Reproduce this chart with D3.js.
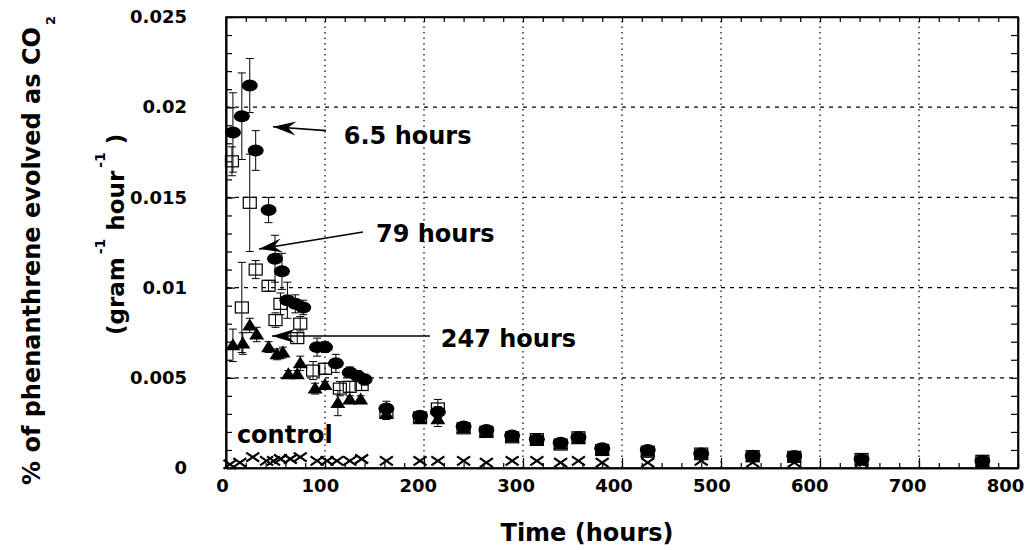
<!DOCTYPE html>
<html>
<head>
<meta charset="utf-8">
<script src="https://cdn.jsdelivr.net/npm/d3@7"></script>
<style>
  body { margin: 0; background: #fff; }
  text { font-family: "DejaVu Sans", sans-serif; font-weight: bold; fill: #000; }
</style>
</head>
<body>
<div id="chart"></div>
<script>
// ---- data (time in hours, rate in % gram^-1 hour^-1) ----
// 6.5 hours (filled circles)
const circleTime = [7, 16, 24, 30, 43, 49.5, 56.5, 62, 70, 78, 92, 100, 111, 125, 133, 140, 162, 196, 214,
  240, 263, 289, 314, 338, 356, 380, 426, 480, 532, 574, 642, 764];
const circleRate = [0.0186, 0.0195, 0.0212, 0.0176, 0.0143, 0.0116, 0.0109, 0.0093, 0.0091, 0.0089, 0.0067, 0.0067, 0.0058, 0.0053, 0.0051, 0.0049, 0.0033, 0.0029, 0.0031,
  0.0023, 0.0021, 0.0018, 0.0016, 0.0014, 0.0017, 0.0011, 0.0010, 0.0008, 0.00068, 0.00066, 0.0005, 0.0004];
const circleErr = [0.0022, 0.0024, 0.0015, 0.0011, 0.0007, 0.0013, 0.001, 0.001, 0.0005, 0.0004, 0.0005, 0.0003, 0.0005, 0.0003, 0.0003, 0.0003, 0.0004, 0.0002, 0.0003,
  0.0001, 0.0001, 0.0001, 0.0002, 0.0001, 0.0002, 0.0001, 0.0001, 0.0001, 0.0001, 0.0001, 0.0001, 0.0001];

// 79 hours (open squares)
const squareTime = [6, 16, 24, 30, 43, 50, 55, 72, 75, 88, 100, 115, 125, 137, 162, 196, 214,
  240, 263, 289, 314, 338, 356, 380, 426, 480, 532, 574, 642, 764];
const squareRate = [0.0170, 0.0089, 0.0147, 0.0110, 0.0101, 0.0082, 0.0091, 0.0072, 0.0080, 0.0054, 0.0055, 0.0044, 0.0045, 0.0046, 0.0031, 0.0028, 0.0033,
  0.0022, 0.0020, 0.0017, 0.0016, 0.0013, 0.0017, 0.0010, 0.0009, 0.0008, 0.00066, 0.00062, 0.0005, 0.0004];
const squareErr = [0.0008, 0.0025, 0.0027, 0.0005, 0.0003, 0.0004, 0.0006, 0.0003, 0.0004, 0.0005, 0.0003, 0.0004, 0.0003, 0.0003, 0.0004, 0.0003, 0.0005,
  0.0001, 0.0001, 0.0001, 0.0001, 0.0001, 0.0003, 0.0001, 0.0001, 0.0001, 0.0001, 0.0001, 0.0001, 0.0001];

// 247 hours (filled triangles)
const triTime = [7, 17, 24, 31, 43, 51.5, 57.5, 63, 72, 75, 90, 100, 113, 125, 136, 162, 196, 214,
  240, 263, 289, 314, 338, 356, 380, 426, 480, 532, 574, 642, 764];
const triRate = [0.0068, 0.0069, 0.0079, 0.0074, 0.0067, 0.0063, 0.0064, 0.0052, 0.0052, 0.0058, 0.0044, 0.0046, 0.0036, 0.0038, 0.0038, 0.0030, 0.0027, 0.0027,
  0.0022, 0.0020, 0.0017, 0.0015, 0.0013, 0.0016, 0.0010, 0.0009, 0.0007, 0.0006, 0.0006, 0.0004, 0.0003];
const triErr = [0.0009, 0.0006, 0.0004, 0.0004, 0.0003, 0.0003, 0.0003, 0.0002, 0.0002, 0.0004, 0.0003, 0.0002, 0.0007, 0.0002, 0.0002, 0.0003, 0.0002, 0.0004,
  0, 0, 0, 0, 0, 0, 0, 0, 0, 0, 0, 0, 0];

// control (crosses)
const controlTime = [4, 14, 27, 41, 48, 55, 65, 75, 92, 102, 112, 125, 137, 162, 196, 214, 240, 263, 289, 314, 338, 356, 380, 426, 480, 532, 574, 642, 764];
const controlRate = [0.0002, 0.0003, 0.0006, 0.0004, 0.0004, 0.0005, 0.0005, 0.0006, 0.0004, 0.0004, 0.0004, 0.0004, 0.0005, 0.0004, 0.0004, 0.0004, 0.0004, 0.0003, 0.0004, 0.0004, 0.0003, 0.0004, 0.0003, 0.0003, 0.0004, 0.0003, 0.0003, 0.0003, 0.0003];

// axes
const xTicks = [0, 100, 200, 300, 400, 500, 600, 700, 800];
const yTicks = [0, 0.005, 0.01, 0.015, 0.02, 0.025];
const yTickLabels = ["0", "0.005", "0.01", "0.015", "0.02", "0.025"];

// annotations: text anchor and arrow (tail -> tip) in data units
const noteLabels = ["6.5 hours", "79 hours", "247 hours", "control"];
const noteText = [[119, 0.01796], [151.5, 0.01253], [217, 0.00671], [11, 0.00139]];
const noteTail = [[101, 0.0187], [138.4, 0.01308], [206, 0.00732], null];
const noteTip = [[47.5, 0.01892], [33.3, 0.01214], [46.5, 0.00732], null];

const width = 1036, height = 550;

const x = d3.scaleLinear().domain([0, 800]).range([226, 1018]);
const y = d3.scaleLinear().domain([0, 0.025]).range([468, 17]);
// tick labels sit slightly left of their ticks in the original
const xLab = d3.scaleLinear().domain([0, 800]).range([222, 1005]);

const svg = d3.select("#chart").append("svg")
  .attr("width", width)
  .attr("height", height);

// grid
svg.append("g").selectAll("line")
  .data(xTicks.slice(1, -1))
  .join("line")
  .attr("x1", d => x(d)).attr("x2", d => x(d))
  .attr("y1", y(0)).attr("y2", y(0.025))
  .attr("stroke", "#000").attr("stroke-width", 1.2)
  .attr("stroke-dasharray", "1.5,4");

svg.append("g").selectAll("line")
  .data(yTicks.slice(1, -1))
  .join("line")
  .attr("x1", x(0)).attr("x2", x(800))
  .attr("y1", d => y(d)).attr("y2", d => y(d))
  .attr("stroke", "#000").attr("stroke-width", 1.2)
  .attr("stroke-dasharray", "4,5");

// minor ticks
const xMinor = d3.range(0, 801, 20);
const yMinor = d3.range(0, 0.02501, 0.001);

svg.append("g").attr("transform", `translate(0,${y(0)})`)
  .call(d3.axisBottom(x).tickValues(xMinor).tickSize(-5).tickSizeOuter(0).tickFormat(""));
svg.append("g").attr("transform", `translate(0,${y(0.025)})`)
  .call(d3.axisTop(x).tickValues(xMinor).tickSize(-5).tickSizeOuter(0).tickFormat(""));
svg.append("g").attr("transform", `translate(${x(0)},0)`)
  .call(d3.axisLeft(y).tickValues(yMinor).tickSize(-6).tickSizeOuter(0).tickFormat(""));
svg.append("g").attr("transform", `translate(${x(800)},0)`)
  .call(d3.axisRight(y).tickValues(yMinor).tickSize(-7).tickSizeOuter(0).tickFormat(""));

// major ticks with labels
const xAxis = svg.append("g").attr("transform", `translate(0,${y(0)})`)
  .call(d3.axisBottom(x).tickValues(xTicks).tickSize(-10).tickSizeOuter(0).tickPadding(11).tickFormat(d3.format("d")));
xAxis.selectAll("text")
  .attr("x", d => xLab(d) - x(d))
  .style("font-size", "18px");

const yAxis = svg.append("g").attr("transform", `translate(${x(0)},0)`)
  .call(d3.axisLeft(y).tickValues(yTicks).tickSize(-9).tickSizeOuter(0).tickPadding(39)
    .tickFormat((d, i) => yTickLabels[i]));
yAxis.selectAll("text").style("font-size", "18px");

svg.selectAll(".domain").attr("stroke", "#000").attr("stroke-width", 1.6);
svg.selectAll(".tick line").attr("stroke", "#000").attr("stroke-width", 1.2);

// axis titles
svg.append("text")
  .attr("x", (x(0) + x(800)) / 2 - 35)
  .attr("y", 541)
  .attr("text-anchor", "middle")
  .style("font-size", "24px")
  .text("Time (hours)");

const yTitle = svg.append("text")
  .attr("transform", "translate(40,485) rotate(-90)")
  .style("font-size", "24px");
yTitle.append("tspan").text("% of phenanthrene evolved as CO");
yTitle.append("tspan").attr("dx", 2).attr("dy", 15).style("font-size", "13px").text("2");

const yTitle2 = svg.append("text")
  .attr("transform", "translate(124,335) rotate(-90)")
  .style("font-size", "23px");
yTitle2.append("tspan").text("(gram");
yTitle2.append("tspan").attr("dx", 3).attr("dy", -19).style("font-size", "14px").text("-1");
yTitle2.append("tspan").attr("dx", 8).attr("dy", 19).text("hour");
yTitle2.append("tspan").attr("dx", 3).attr("dy", -19).style("font-size", "14px").text("-1");
yTitle2.append("tspan").attr("dx", 8).attr("dy", 19).text(")");

// error bars
function errorBars(times, rates, errs) {
  const pts = times.map((t, i) => ({ t, v: rates[i], e: errs[i] })).filter(d => d.e > 0);
  const g = svg.append("g").attr("stroke", "#000").attr("stroke-width", 1);
  g.selectAll(".v").data(pts).join("line")
    .attr("x1", d => x(d.t)).attr("x2", d => x(d.t))
    .attr("y1", d => y(d.v - d.e)).attr("y2", d => y(d.v + d.e));
  g.selectAll(".top").data(pts).join("line")
    .attr("x1", d => x(d.t) - 4).attr("x2", d => x(d.t) + 4)
    .attr("y1", d => y(d.v + d.e)).attr("y2", d => y(d.v + d.e));
  g.selectAll(".bot").data(pts).join("line")
    .attr("x1", d => x(d.t) - 4).attr("x2", d => x(d.t) + 4)
    .attr("y1", d => y(d.v - d.e)).attr("y2", d => y(d.v - d.e));
}
errorBars(squareTime, squareRate, squareErr);
errorBars(circleTime, circleRate, circleErr);
errorBars(triTime, triRate, triErr);

// control crosses
svg.append("g").selectAll("path")
  .data(controlTime.map((t, i) => [t, controlRate[i]]))
  .join("path")
  .attr("d", d => {
    const cx = x(d[0]), cy = y(d[1]);
    return `M${cx - 6.5},${cy - 4.5}L${cx + 6.5},${cy + 4.5}M${cx - 6.5},${cy + 4.5}L${cx + 6.5},${cy - 4.5}`;
  })
  .attr("stroke", "#000").attr("stroke-width", 2.2).attr("fill", "none");

// triangles
svg.append("g").selectAll("path")
  .data(triTime.map((t, i) => [t, triRate[i]]))
  .join("path")
  .attr("d", d => {
    const cx = x(d[0]), cy = y(d[1]);
    return `M${cx},${cy - 7}L${cx + 7.5},${cy + 5}L${cx - 7.5},${cy + 5}Z`;
  })
  .attr("fill", "#000");

// circles
svg.append("g").selectAll("ellipse")
  .data(circleTime.map((t, i) => [t, circleRate[i]]))
  .join("ellipse")
  .attr("cx", d => x(d[0])).attr("cy", d => y(d[1]))
  .attr("rx", 8).attr("ry", 6)
  .attr("fill", "#000");

// open squares
svg.append("g").selectAll("rect")
  .data(squareTime.map((t, i) => [t, squareRate[i]]))
  .join("rect")
  .attr("x", d => x(d[0]) - 6.5).attr("y", d => y(d[1]) - 5.5)
  .attr("width", 13).attr("height", 11)
  .attr("fill", "none").attr("stroke", "#000").attr("stroke-width", 1.2);

// frame
svg.append("rect")
  .attr("x", x(0)).attr("y", y(0.025))
  .attr("width", x(800) - x(0)).attr("height", y(0) - y(0.025))
  .attr("fill", "none").attr("stroke", "#000").attr("stroke-width", 1.6);

// annotations
noteLabels.forEach((label, i) => {
  svg.append("text")
    .attr("x", x(noteText[i][0])).attr("y", y(noteText[i][1]))
    .style("font-size", "24px")
    .text(label);
  if (!noteTail[i]) return;
  const x0 = x(noteTail[i][0]), y0 = y(noteTail[i][1]);
  const x1 = x(noteTip[i][0]), y1 = y(noteTip[i][1]);
  svg.append("line")
    .attr("x1", x0).attr("y1", y0).attr("x2", x1).attr("y2", y1)
    .attr("stroke", "#000").attr("stroke-width", 1.6);
  const len = Math.hypot(x0 - x1, y0 - y1);
  const ux = (x0 - x1) / len, uy = (y0 - y1) / len;
  const nx = -uy, ny = ux;
  const L = 23, W = 7;
  svg.append("path")
    .attr("d", `M${x1},${y1}L${x1 + ux * L + nx * W},${y1 + uy * L + ny * W}` +
      `L${x1 + ux * L * 0.65},${y1 + uy * L * 0.65}` +
      `L${x1 + ux * L - nx * W},${y1 + uy * L - ny * W}Z`)
    .attr("fill", "#000");
});
</script>
</body>
</html>
